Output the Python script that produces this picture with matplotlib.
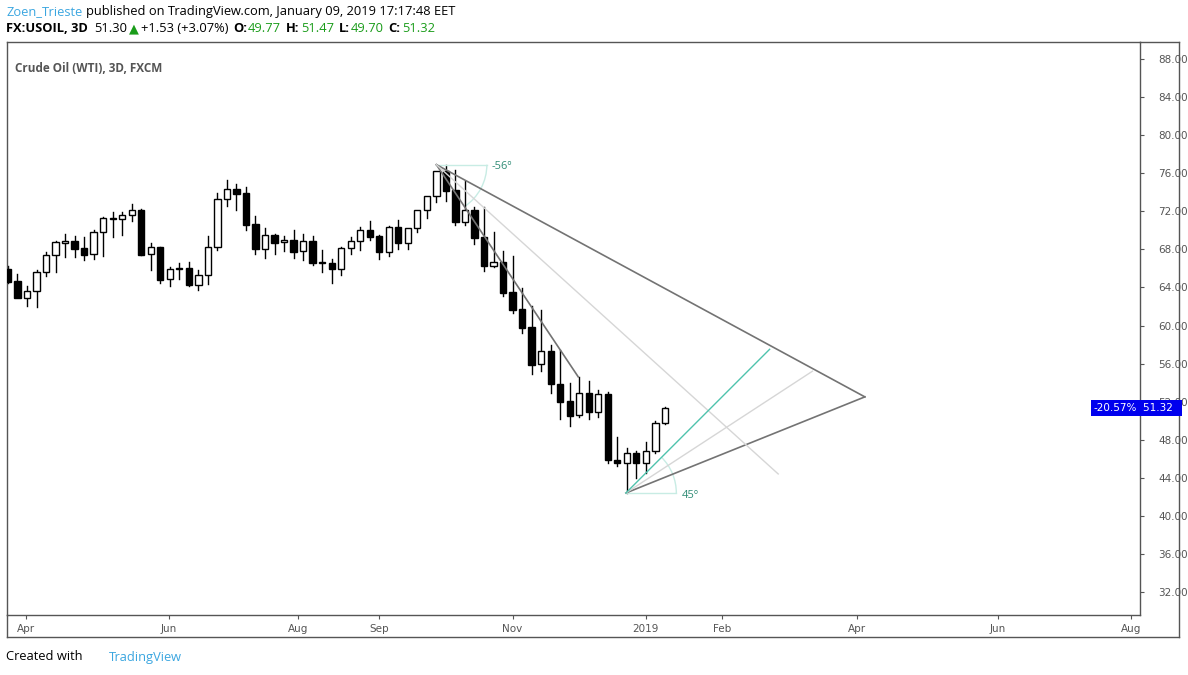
import numpy as np
import matplotlib.pyplot as plt
from matplotlib.patches import Rectangle, Arc

# 3D candles, Mar 2018 - Jan 2019
opens = [65.9, 64.7, 62.9, 63.6, 65.6, 67.4, 68.7, 68.9, 68.1, 67.5,
         69.8, 71.2, 71.2, 71.6, 72.1, 67.5, 68.2, 64.9, 65.9, 66.0,
         64.3, 65.3, 68.2, 73.3, 74.3, 73.9, 70.7, 68.0, 69.5, 68.8,
         69.0, 67.8, 68.9, 66.6, 66.6, 65.9, 68.1, 68.9, 70.0, 69.4,
         67.7, 70.3, 68.7, 70.2, 72.1, 73.6, 76.2, 74.2, 70.9, 72.1,
         69.3, 66.3, 66.7, 63.5, 61.7, 59.8, 56.0, 57.3, 53.9, 52.1,
         50.6, 52.9, 50.9, 52.8, 45.9, 45.5, 46.6, 45.5, 46.8, 49.8]
highs = [66.3, 65.4, 64.2, 65.8, 67.7, 68.9, 69.6, 69.4, 69.3, 70.0,
         71.4, 71.9, 71.9, 72.8, 72.2, 68.7, 68.3, 66.1, 66.6, 66.7,
         65.8, 69.4, 73.9, 75.3, 74.9, 74.6, 71.5, 70.2, 69.6, 69.4,
         70.0, 69.6, 69.4, 67.9, 67.0, 68.2, 69.3, 70.4, 71.0, 69.5,
         70.5, 71.1, 68.8, 71.1, 72.6, 73.8, 76.9, 76.3, 75.2, 72.4,
         72.4, 69.8, 67.8, 67.3, 63.9, 62.1, 61.6, 57.9, 57.4, 54.0,
         54.6, 54.2, 53.2, 53.0, 48.3, 47.1, 46.8, 47.8, 50.0, 51.4]
lows = [64.5, 64.0, 62.0, 61.9, 65.2, 65.6, 67.2, 67.2, 66.9, 67.0,
        67.3, 69.3, 69.5, 71.0, 67.4, 65.8, 64.5, 64.2, 64.9, 64.2,
        63.7, 64.4, 67.9, 72.6, 72.1, 70.0, 67.5, 67.1, 67.5, 67.8,
        67.1, 66.9, 66.4, 65.6, 64.5, 65.3, 67.5, 67.9, 69.0, 67.0,
        67.3, 68.0, 68.0, 69.8, 71.3, 73.0, 73.1, 70.6, 70.6, 68.6,
        65.7, 66.1, 63.1, 61.3, 59.2, 54.9, 55.2, 52.9, 50.2, 49.4,
        50.4, 50.2, 50.4, 45.6, 45.2, 42.4, 44.0, 44.5, 46.6, 49.7]
closes = [64.6, 62.9, 63.6, 65.6, 67.4, 68.8, 68.9, 68.0, 67.4, 69.8,
          71.3, 71.2, 71.6, 72.1, 67.4, 68.2, 64.8, 65.9, 66.0, 64.3,
          65.3, 68.2, 73.3, 74.3, 73.8, 70.6, 68.0, 69.5, 68.7, 69.0,
          67.7, 68.9, 66.6, 66.6, 65.9, 68.1, 68.9, 70.0, 69.3, 67.7,
          70.3, 68.7, 70.2, 72.1, 73.6, 76.2, 74.1, 70.9, 72.1, 69.2,
          66.3, 66.7, 63.4, 61.6, 59.7, 55.8, 57.3, 53.9, 52.0, 50.5,
          52.9, 50.9, 52.8, 45.9, 45.5, 46.6, 45.5, 46.8, 49.8, 51.3]

month_labels = ["Apr", "Jun", "Aug", "Sep", "Nov", "2019", "Feb", "Apr", "Jun", "Aug"]
month_pos = [1.9, 16.9, 30.5, 39.0, 53.0, 67.0, 75.0, 89.2, 104.0, 118.0]
price_ticks = [32, 36, 40, 44, 48, 52, 56, 60, 64, 68, 72, 76, 80, 84, 88]

# drawing anchor points (bar index, price)
top_pt = (45.0, 76.9)
bottom_pt = (64.9, 42.4)
apex_pt = (90.0, 52.5)
mid_pt = (59.9, 54.6)
light_top_end = (80.9, 44.4)
light_bot_end = (84.5, 55.2)
teal_end = (80.0, 57.5)

W, H = 1188, 675
fig = plt.figure(figsize=(W / 100, H / 100), dpi=100)
ax = fig.add_axes([7 / W, 60 / H, 1133 / W, 573 / H])
ax.set_xlim(-0.1, 118.9)
ax.set_ylim(29.58, 89.79)

# candles
for i, (o, h, l, c) in enumerate(zip(opens, highs, lows, closes)):
    ax.plot([i, i], [l, h], color="black", lw=1, zorder=2)
    bottom = min(o, c)
    height = max(abs(c - o), 0.12)
    face = "white" if c >= o else "black"
    ax.add_patch(Rectangle((i - 0.33, bottom), 0.66, height, facecolor=face,
                           edgecolor="black", lw=1, zorder=3))

# trend drawings
grey = "#737373"
light = "#d6d6d6"
teal = "#4fc3ad"
ax.plot([top_pt[0], apex_pt[0]], [top_pt[1], apex_pt[1]], color=grey, lw=1.2, zorder=4)
ax.plot([bottom_pt[0], apex_pt[0]], [bottom_pt[1], apex_pt[1]], color=grey, lw=1.2, zorder=4)
ax.plot([top_pt[0], mid_pt[0]], [top_pt[1], mid_pt[1]], color=grey, lw=1.2, zorder=4)
ax.plot([top_pt[0], light_top_end[0]], [top_pt[1], light_top_end[1]], color=light, lw=1, zorder=4)
ax.plot([bottom_pt[0], light_bot_end[0]], [bottom_pt[1], light_bot_end[1]], color=light, lw=1, zorder=4)
ax.plot([bottom_pt[0], teal_end[0]], [bottom_pt[1], teal_end[1]], color=teal, lw=1, zorder=4)

# angle markers
arc_col = "#c8ece4"
r = 5.3
ax.plot([top_pt[0], top_pt[0] + r], [top_pt[1], top_pt[1]], color=arc_col, lw=1)
ax.add_patch(Arc(top_pt, 2 * r, 2 * r, theta1=-56, theta2=0, color=arc_col, lw=1))
ax.text(top_pt[0] + r + 0.5, top_pt[1] - 0.2, "-56º", color="#2e8b74", fontsize=8,
        va="center", fontfamily="Open Sans")
ax.plot([bottom_pt[0], bottom_pt[0] + r], [bottom_pt[1], bottom_pt[1]], color=arc_col, lw=1)
ax.add_patch(Arc(bottom_pt, 2 * r, 2 * r, theta1=0, theta2=45, color=arc_col, lw=1))
ax.text(bottom_pt[0] + r + 0.6, bottom_pt[1] - 0.3, "45º", color="#2e8b74", fontsize=8,
        va="center", fontfamily="Open Sans")

# axes styling
for s in ax.spines.values():
    s.set_color("#555555")
    s.set_linewidth(1)
ax.yaxis.tick_right()
ax.set_yticks(price_ticks)
ax.set_yticklabels([f"{p:.2f}" for p in price_ticks])
ax.set_xticks(month_pos)
ax.set_xticklabels(month_labels)
ax.tick_params(axis="both", colors="#555555", labelsize=7.5, length=3)
ax.tick_params(axis="y", pad=10)

# outer frame
fig.add_artist(plt.Line2D([1179 / W, 1179 / W], [38 / H, 633 / H], color="#555555", lw=1))
fig.add_artist(plt.Line2D([7 / W, 1179 / W], [38 / H, 38 / H], color="#555555", lw=1))
fig.add_artist(plt.Line2D([7 / W, 7 / W], [38 / H, 60 / H], color="#555555", lw=1))
fig.add_artist(plt.Line2D([1140 / W, 1179 / W], [633 / H, 633 / H], color="#555555", lw=1))

# last price tag
fig.text(1137 / W, (H - 408) / H, "-20.57%", color="white", fontsize=7.5, ha="right",
         va="center", bbox=dict(facecolor="#0000ee", edgecolor="none", pad=2.2))
fig.text(1143 / W, (H - 408) / H, "51.32  ", color="white", fontsize=7.5, ha="left",
         va="center", bbox=dict(facecolor="#0000ee", edgecolor="none", pad=2.2))

ax.text(0.007, 0.965, "Crude Oil (WTI), 3D, FXCM", transform=ax.transAxes, fontsize=8.5,
        color="#555555", fontweight="bold", fontfamily="Open Sans", va="top")

# header text, placed piece by piece
renderer = fig.canvas.get_renderer()


def chain(x, y, parts):
    for txt, col, weight, gap in parts:
        family = "DejaVu Sans" if txt == "\u25b2" else "Open Sans"
        t = fig.text(x / W, 1 - y / H, txt, color=col, fontsize=9.3, va="center",
                     fontweight=weight, fontfamily=family)
        x = t.get_window_extent(renderer).x1 + gap


green = "#1a9c1a"
chain(6, 12, [("Zoen_Trieste", "#3ba6e0", "normal", 4),
              ("published on TradingView.com, January 09, 2019 17:17:48 EET", "black", "normal", 0)])
chain(6, 29, [("FX:USOIL, 3D", "black", "bold", 6), ("51.30", "black", "normal", 2),
              ("\u25b2", green, "normal", 2), ("+1.53 (+3.07%)", "black", "normal", 5),
              ("O:", "black", "bold", 1), ("49.77", green, "normal", 5),
              ("H:", "black", "bold", 1), ("51.47", green, "normal", 5),
              ("L:", "black", "bold", 1), ("49.70", green, "normal", 5),
              ("C:", "black", "bold", 1), ("51.32", green, "normal", 0)])
chain(6, 657, [("Created with", "black", "normal", 26), ("TradingView", "#3ba6e0", "normal", 0)])

fig.savefig("out.png", dpi=100, facecolor="white")
